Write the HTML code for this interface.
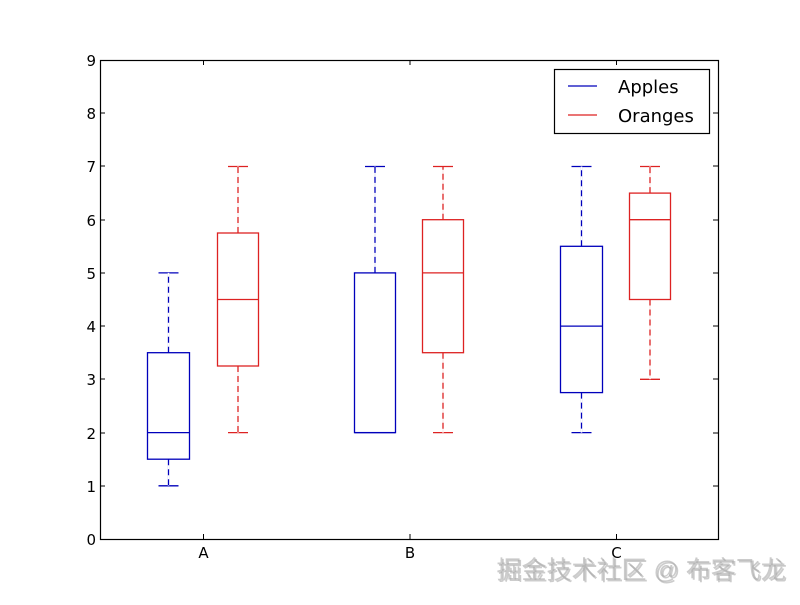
<!DOCTYPE html>
<html><head><meta charset="utf-8"><style>
html,body{margin:0;padding:0;background:#fff;}
svg text{font-family:"DejaVu Sans","Liberation Sans",sans-serif;}
</style></head><body>
<svg width="800" height="600" xmlns="http://www.w3.org/2000/svg">
<rect width="800" height="600" fill="#fff"/>
<g stroke="#000" stroke-width="1" fill="none">
<rect x="100.5" y="60.5" width="618" height="479" stroke-width="1.2"/>
<path d="M100 486h5M100 433h5M100 379h5M100 326h5M100 273h5M100 220h5M100 166h5M100 113h5
M718 486h-5M718 433h-5M718 379h-5M718 326h-5M718 273h-5M718 220h-5M718 166h-5M718 113h-5
M203.5 539v-5M410 539v-5M616.5 539v-5M203.5 60v5M410 60v5M616.5 60v5"/>
</g>
<g font-size="15" fill="#000" text-anchor="end">
<text x="96" y="545">0</text><text x="96" y="492">1</text><text x="96" y="439">2</text>
<text x="96" y="385">3</text><text x="96" y="332">4</text><text x="96" y="279">5</text>
<text x="96" y="226">6</text><text x="96" y="172">7</text><text x="96" y="119">8</text>
<text x="96" y="66">9</text>
</g>
<g font-size="15" text-anchor="middle">
<text x="203.5" y="558">A</text><text x="410" y="558">B</text><text x="616.5" y="558">C</text>
</g>
<g fill="none" stroke-width="1.3">
<g stroke="#0000bb">
<rect x="147.5" y="352.7" width="42" height="106.5"/>
<path d="M147.5 432.6h42M168.5 459.2V485.8M168.5 352.7V272.9M158.5 485.8h20M158.5 272.9h20"/>
<path d="M168.5 459.2V485.8M168.5 352.7V272.9" stroke="#fff" stroke-dasharray="0 6 4 0" stroke-width="1.6"/>
<rect x="354.5" y="272.9" width="41" height="159.7"/>
<path d="M354.5 432.6h41M375 272.9V166.5M365 166.5h20M365 432.6h20"/>
<path d="M375 272.9V166.5" stroke="#fff" stroke-dasharray="0 6 4 0" stroke-width="1.6"/>
<rect x="560.5" y="246.3" width="42" height="146.3"/>
<path d="M560.5 326.1h42M581.5 392.6V432.6M581.5 246.3V166.5M571.5 432.6h20M571.5 166.5h20"/>
<path d="M581.5 392.6V432.6M581.5 246.3V166.5" stroke="#fff" stroke-dasharray="0 6 4 0" stroke-width="1.6"/>
</g>
<g stroke="#dd2222">
<rect x="217.5" y="233" width="41" height="133"/>
<path d="M217.5 299.5h41M238 366V432.6M238 233V166.5M228 432.6h20M228 166.5h20"/>
<path d="M238 366V432.6M238 233V166.5" stroke="#fff" stroke-dasharray="0 6 4 0" stroke-width="1.6"/>
<rect x="422.5" y="219.7" width="41" height="133"/>
<path d="M422.5 272.9h41M443 352.7V432.6M443 219.7V166.5M433 432.6h20M433 166.5h20"/>
<path d="M443 352.7V432.6M443 219.7V166.5" stroke="#fff" stroke-dasharray="0 6 4 0" stroke-width="1.6"/>
<rect x="629.5" y="193.1" width="41" height="106.4"/>
<path d="M629.5 219.7h41M650 299.5V379.3M650 193.1V166.5M640 379.3h20M640 166.5h20"/>
<path d="M650 299.5V379.3M650 193.1V166.5" stroke="#fff" stroke-dasharray="0 6 4 0" stroke-width="1.6"/>
</g>
</g>
<rect x="554.5" y="69.5" width="155" height="64" fill="#fff" stroke="#000" stroke-width="1.2"/>
<path d="M568 86h29" stroke="#0000bb" stroke-width="1.3"/>
<path d="M568 115h29" stroke="#dd2222" stroke-width="1.3"/>
<g font-size="18"><text x="618" y="93">Apples</text><text x="618" y="122">Oranges</text></g>
<text x="498" y="580" font-size="25" fill="#ccc" style="font-family:'Liberation Sans','Noto Sans CJK SC',sans-serif">掘金技术社区 @ 布客飞龙</text>
<text x="496.5" y="578.5" font-size="25" fill="#aaa" style="font-family:'Liberation Sans','Noto Sans CJK SC',sans-serif;opacity:0.6">掘金技术社区 @ 布客飞龙</text>
</svg>
</body></html>
